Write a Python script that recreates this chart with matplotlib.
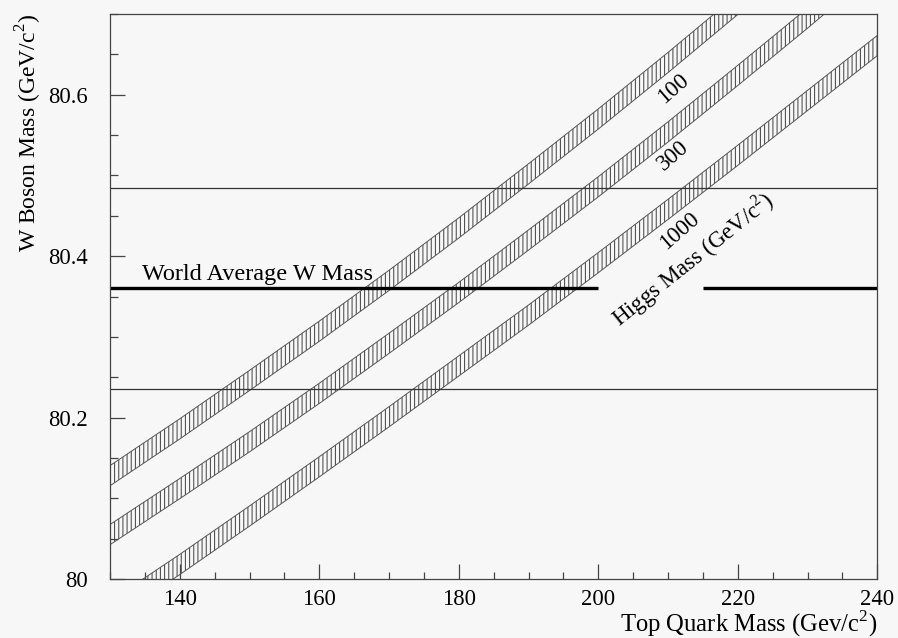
import matplotlib
matplotlib.use("Agg")
import matplotlib.pyplot as plt
from matplotlib.ticker import MultipleLocator, FixedLocator

plt.rcParams['font.family'] = ['Liberation Serif', 'DejaVu Serif']
plt.rcParams['mathtext.fontset'] = 'custom'
plt.rcParams['mathtext.rm'] = 'Liberation Serif'
plt.rcParams['hatch.linewidth'] = 0.75

# Predicted W mass versus top mass for three Higgs masses
top_mass = [130, 140, 150, 160, 170, 180, 190, 200, 210, 220, 230, 240]
mw_higgs_100 = [80.128, 80.186, 80.246, 80.307, 80.370, 80.435, 80.502,
                80.570, 80.640, 80.712, 80.785, 80.860]
mw_higgs_300 = [80.055, 80.112, 80.170, 80.230, 80.292, 80.355, 80.420,
                80.486, 80.554, 80.624, 80.695, 80.768]
mw_higgs_1000 = [79.960, 80.018, 80.078, 80.139, 80.201, 80.264, 80.327,
                 80.392, 80.458, 80.525, 80.593, 80.661]
band_halfwidth = 0.0125

higgs_labels = ["100", "300", "1000"]

# World average W mass and its uncertainty
mw_world = 80.36
mw_world_err = 0.125
world_segments = [(130, 200), (215, 240)]

bg = '#f7f7f7'
ink = '#444444'

fig = plt.figure(figsize=(8.98, 6.38), dpi=100, facecolor=bg)
ax = fig.add_axes([0.1225, 0.0925, 0.977 - 0.1225, 0.978 - 0.0925], facecolor=bg)

for mw in (mw_higgs_100, mw_higgs_300, mw_higgs_1000):
    lo = [v - band_halfwidth for v in mw]
    hi = [v + band_halfwidth for v in mw]
    ax.fill_between(top_mass, lo, hi, facecolor='none', edgecolor='#4a4a4a',
                    hatch='||||', linewidth=0.0)
    ax.plot(top_mass, lo, color='#555555', lw=0.7)
    ax.plot(top_mass, hi, color='#555555', lw=0.7)

# uncertainty lines and world-average line
for y in (mw_world - mw_world_err, mw_world + mw_world_err):
    ax.axhline(y, color='#333333', lw=0.9)
for x0, x1 in world_segments:
    ax.plot([x0, x1], [mw_world, mw_world], color='black', lw=2.4,
            solid_capstyle='butt')

ax.set_xlim(130, 240)
ax.set_ylim(80, 80.7)

ax.xaxis.set_major_locator(FixedLocator([140, 160, 180, 200, 220, 240]))
ax.xaxis.set_minor_locator(MultipleLocator(5))
ax.yaxis.set_major_locator(FixedLocator([80, 80.2, 80.4, 80.6]))
ax.yaxis.set_minor_locator(MultipleLocator(0.05))
ax.set_yticklabels(['80', '80.2', '80.4', '80.6'])
ax.tick_params(which='both', direction='in', top=False, right=False,
               color=ink, labelsize=16.3)
ax.tick_params(axis='x', which='major', length=10.5, width=0.9, pad=7)
ax.tick_params(axis='x', which='minor', length=5.2, width=0.9)
ax.tick_params(axis='y', which='major', length=11, width=0.9, pad=16)
ax.tick_params(axis='y', which='minor', length=5.5, width=0.9)
for s in ax.spines.values():
    s.set_color(ink)
    s.set_linewidth(0.9)

fig.text(0.977, 0.0094, r'Top Quark Mass (Gev/c$^2$)', ha='right',
         va='baseline', fontsize=17.7)
fig.text(0.032, 0.978, r'W Boson Mass (GeV/c$^2$)', ha='center', va='top',
         rotation=90, fontsize=17)

ax.text(151.1, 80.371, 'World Average W Mass', ha='center', va='baseline',
        fontsize=17.5)

label_pos = [(210.7, 80.607), (210.7, 80.524), (211.7, 80.431)]
for lab, (x, y) in zip(higgs_labels, label_pos):
    ax.text(x, y, lab, ha='center', va='center', rotation=41, fontsize=16.5)
ax.text(213.5, 80.396, r'Higgs Mass (GeV/c$^2$)', ha='center', va='center',
        rotation=38.5, fontsize=16.5)

fig.savefig('out.png', dpi=100, facecolor=bg)
